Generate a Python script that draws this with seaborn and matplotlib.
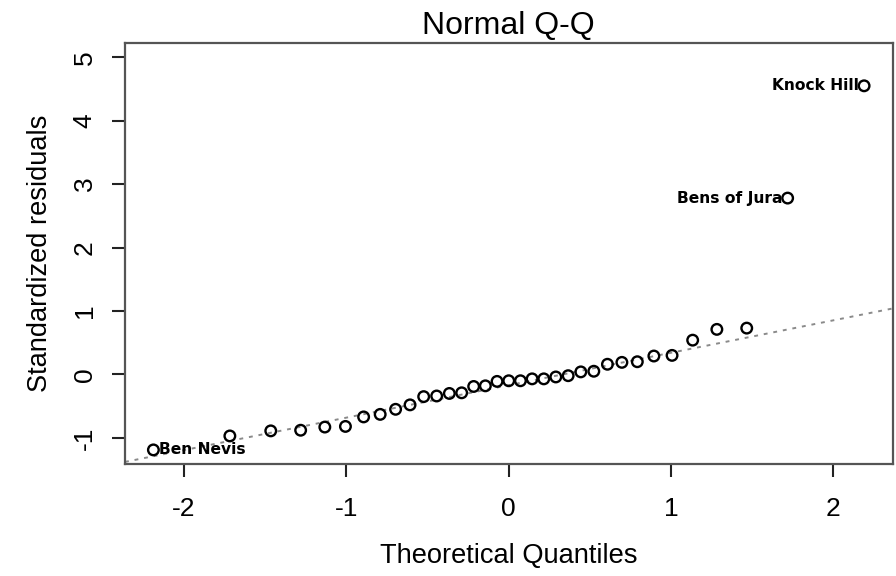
import numpy as np
import matplotlib
matplotlib.use("Agg")
import matplotlib.pyplot as plt
import seaborn as sns

# Theoretical normal quantiles (n = 35)
theoretical = [-2.189, -1.718, -1.466, -1.282, -1.133, -1.006, -0.894, -0.792,
               -0.697, -0.608, -0.524, -0.444, -0.366, -0.290, -0.216, -0.144,
               -0.072, 0.000, 0.072, 0.144, 0.216, 0.290, 0.366, 0.444, 0.524,
               0.608, 0.697, 0.792, 0.894, 1.006, 1.133, 1.282, 1.466, 1.718, 2.189]
# Sorted standardized residuals
residuals = [-1.19, -0.97, -0.89, -0.88, -0.83, -0.82, -0.67, -0.63, -0.55,
             -0.48, -0.35, -0.34, -0.30, -0.29, -0.19, -0.18, -0.11, -0.10,
             -0.10, -0.07, -0.07, -0.04, -0.02, 0.04, 0.05, 0.16, 0.19, 0.20,
             0.29, 0.30, 0.54, 0.71, 0.73, 2.78, 4.55]
point_labels = {0: "Ben Nevis", 33: "Bens of Jura", 34: "Knock Hill"}
xticks = [-2, -1, 0, 1, 2]
yticks = [-1, 0, 1, 2, 3, 4, 5]

sns.set_style("ticks")
plt.rcParams["font.family"] = ["Liberation Sans", "DejaVu Sans"]
plt.rcParams["axes.unicode_minus"] = False
plt.rcParams["text.color"] = "black"
plt.rcParams["axes.labelcolor"] = "black"

fig = plt.figure(figsize=(8.96, 5.76), dpi=100)
ax = fig.add_axes([0.1395, 0.1936, 0.8566, 0.7323])

# qq reference line through the quartiles
q1, q3 = np.quantile(residuals, [0.25, 0.75])
z1, z3 = -0.6745, 0.6745
ax.axline((z1, q1), (z3, q3), color="#8a8a8a", linestyle=(0, (2, 3)), lw=1.4, zorder=1)

sns.scatterplot(x=theoretical, y=residuals, marker="o", s=58,
                facecolor="none", edgecolor="black", linewidth=1.7, ax=ax, zorder=3)

for i, name in point_labels.items():
    if i == 0:
        ax.annotate(name, (theoretical[i], residuals[i]), xytext=(4, 0),
                    textcoords="offset points", ha="left", va="center",
                    fontsize=11.2, fontweight="bold", family="DejaVu Sans",
                    color="black")
    else:
        ax.annotate(name, (theoretical[i], residuals[i]), xytext=(-4, 0),
                    textcoords="offset points", ha="right", va="center",
                    fontsize=11.2, fontweight="bold", family="DejaVu Sans",
                    color="black")

ax.set_xlim(-2.364, 2.364)
ax.set_ylim(-1.42, 5.23)
ax.set_xticks(xticks)
ax.set_yticks(yticks)
ax.set_xticklabels([str(t) for t in xticks])
ax.set_yticklabels([str(t) for t in yticks], rotation=90, va="center")
ax.tick_params(axis="both", length=9.5, width=1.5, color="#222222",
               labelsize=19, labelcolor="black")
ax.tick_params(axis="x", pad=14)
ax.tick_params(axis="y", pad=11)

for sp in ax.spines.values():
    sp.set_visible(True)
    sp.set_color("#555555")
    sp.set_linewidth(1.6)

ax.set_xlabel("Theoretical Quantiles", fontsize=19.6, labelpad=16)
ax.set_ylabel("Standardized residuals", fontsize=19.6, labelpad=14)
ax.set_title("Normal Q-Q", fontsize=23, pad=6)

fig.savefig("out.png", dpi=100)
